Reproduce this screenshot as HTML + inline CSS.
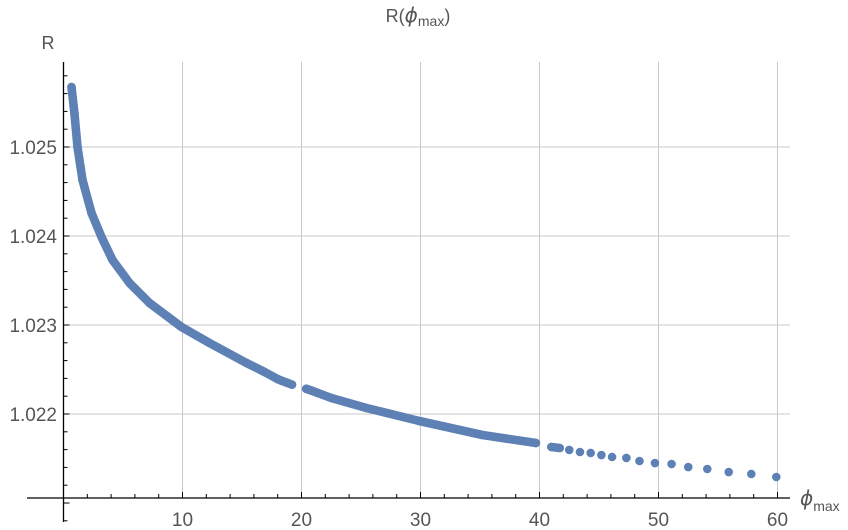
<!DOCTYPE html>
<html><head><meta charset="utf-8">
<style>
html,body{margin:0;padding:0;background:#fff;}
svg{display:block;font-family:"Liberation Sans",sans-serif;}
</style></head>
<body>
<svg id="chart" width="848" height="530" viewBox="0 0 848 530">
  <text x="418" y="22" text-anchor="middle" font-size="18" fill="#555">R(<tspan font-style="italic" font-family="DejaVu Sans" font-size="20">ϕ</tspan><tspan font-size="14" dy="4">max</tspan><tspan dy="-4">)</tspan></text>
  <text x="48" y="49" text-anchor="middle" font-size="18" fill="#555">R</text>
  <text x="800" y="505" font-size="20" fill="#555"><tspan font-style="italic" font-family="DejaVu Sans">ϕ</tspan><tspan font-size="14" dy="6">max</tspan></text>
  <g id="grid"></g>
  <g id="axes"></g>
  <g id="marks"></g>
</svg>
<script>
const phi = [0.67,0.92,1.18,1.6,2.35,3.19,4.12,5.55,7.23,9.92,12.27,15.38,16.9,17.98,18.4,18.8,19.2,20.4,20.8,21.4,22.5,25.46,29.9,35.2,39.7,
  41.0,41.7,42.5,43.4,44.3,45.2,46.1,47.3,48.4,49.7,51.1,52.5,54.1,55.9,57.8,59.9];
const R = [1.025674,1.025382,1.025000,1.024629,1.024258,1.023989,1.023730,1.023472,1.023247,1.022978,1.022798,1.022573,1.022472,1.022393,1.022370,1.022350,1.022330,1.022283,1.022265,1.022235,1.022180,1.022067,1.021921,1.021764,1.021674,
  1.021629,1.021618,1.021596,1.021573,1.021562,1.021539,1.021517,1.021506,1.021472,1.021449,1.021438,1.021404,1.021382,1.021348,1.021326,1.021292];
const bandRanges = [[0,13],[17,24]];
const xTicks = [10,20,30,40,50,60];
const yTicks = [1.022,1.023,1.024,1.025];
const yTickLabels = ["1.022","1.023","1.024","1.025"];

const NS="http://www.w3.org/2000/svg";
const X0=63.5, PX=11.9;
const YREF=414, RREF=1.022, PY=89000;
const xs = v => X0 + v*PX;
const ys = v => YREF - (v-RREF)*PY;
const AXY = 498;
function mk(tag, attrs, parent){const e=document.createElementNS(NS,tag);for(const k in attrs)e.setAttribute(k,attrs[k]);parent.appendChild(e);return e;}
const grid=document.getElementById('grid'), axes=document.getElementById('axes'), marks=document.getElementById('marks');

xTicks.forEach(t=>{
  const l=mk('line',{x1:xs(t),x2:xs(t),y1:62,y2:AXY,stroke:'#c8c8c8','stroke-width':1},grid);
  
  
});
yTicks.forEach(t=>{
  const l=mk('line',{x1:X0,x2:790,y1:ys(t),y2:ys(t),stroke:'#c8c8c8','stroke-width':1},grid);
  
  
});
let ax=mk('line',{x1:27,x2:790,y1:AXY,y2:AXY,stroke:'#000','stroke-width':1.3},axes);


let ay=mk('line',{x1:X0,x2:X0,y1:62,y2:522,stroke:'#000','stroke-width':1.3},axes);


for(let v=2; v<=60; v+=2){
  const major = v%10===0;
  const tk=mk('line',{x1:xs(v),x2:xs(v),y1:AXY,y2:AXY-(major?6:4),stroke:'#000','stroke-width':1},axes);
  
  
}
xTicks.forEach(t=>{
  const tx=mk('text',{x:xs(t),y:526,'text-anchor':'middle','font-size':19,fill:'#555'},axes);
  tx.textContent=t;
  
  
});
for(let i=0;i<=25;i++){
  const v=1.0208+i*0.0002;
  const major = Math.abs(((v-1.022)/0.001)-Math.round((v-1.022)/0.001))<1e-6;
  const tk=mk('line',{x1:X0,x2:X0+(major?6:4),y1:ys(v),y2:ys(v),stroke:'#000','stroke-width':1},axes);
  
  
}
yTicks.forEach((t,i)=>{
  const tx=mk('text',{x:57,y:ys(t)+7,'text-anchor':'end','font-size':19,fill:'#555'},axes);
  tx.textContent=yTickLabels[i];
  
  
});
const COL='#5e81b5';
bandRanges.forEach(rg=>{
  let d='';
  for(let i=rg[0];i<=rg[1];i++){
    d+=(i===rg[0]?'M':'L')+xs(phi[i]).toFixed(1)+','+ys(R[i]).toFixed(1);
  }
  const p=mk('path',{d:d,fill:'none',stroke:COL,'stroke-width':8.6,'stroke-linecap':'round','stroke-linejoin':'round'},marks);
  
  
});
let d2='';
for(let i=0;i<phi.length;i++){
  if(i>0 && Math.hypot(xs(phi[i])-xs(phi[i-1]),ys(R[i])-ys(R[i-1]))<9.5) d2+='L'; else d2+='M';
  d2+=xs(phi[i]).toFixed(1)+','+ys(R[i]).toFixed(1);
}
const p2=mk('path',{d:d2,fill:'none',stroke:COL,'stroke-width':8.6,'stroke-linecap':'round','stroke-linejoin':'round'},marks);


for(let i=0;i<phi.length;i++){
  const c=mk('circle',{cx:xs(phi[i]),cy:ys(R[i]),r:4.3,fill:COL},marks);
  
  
}
</script>
</body></html>
